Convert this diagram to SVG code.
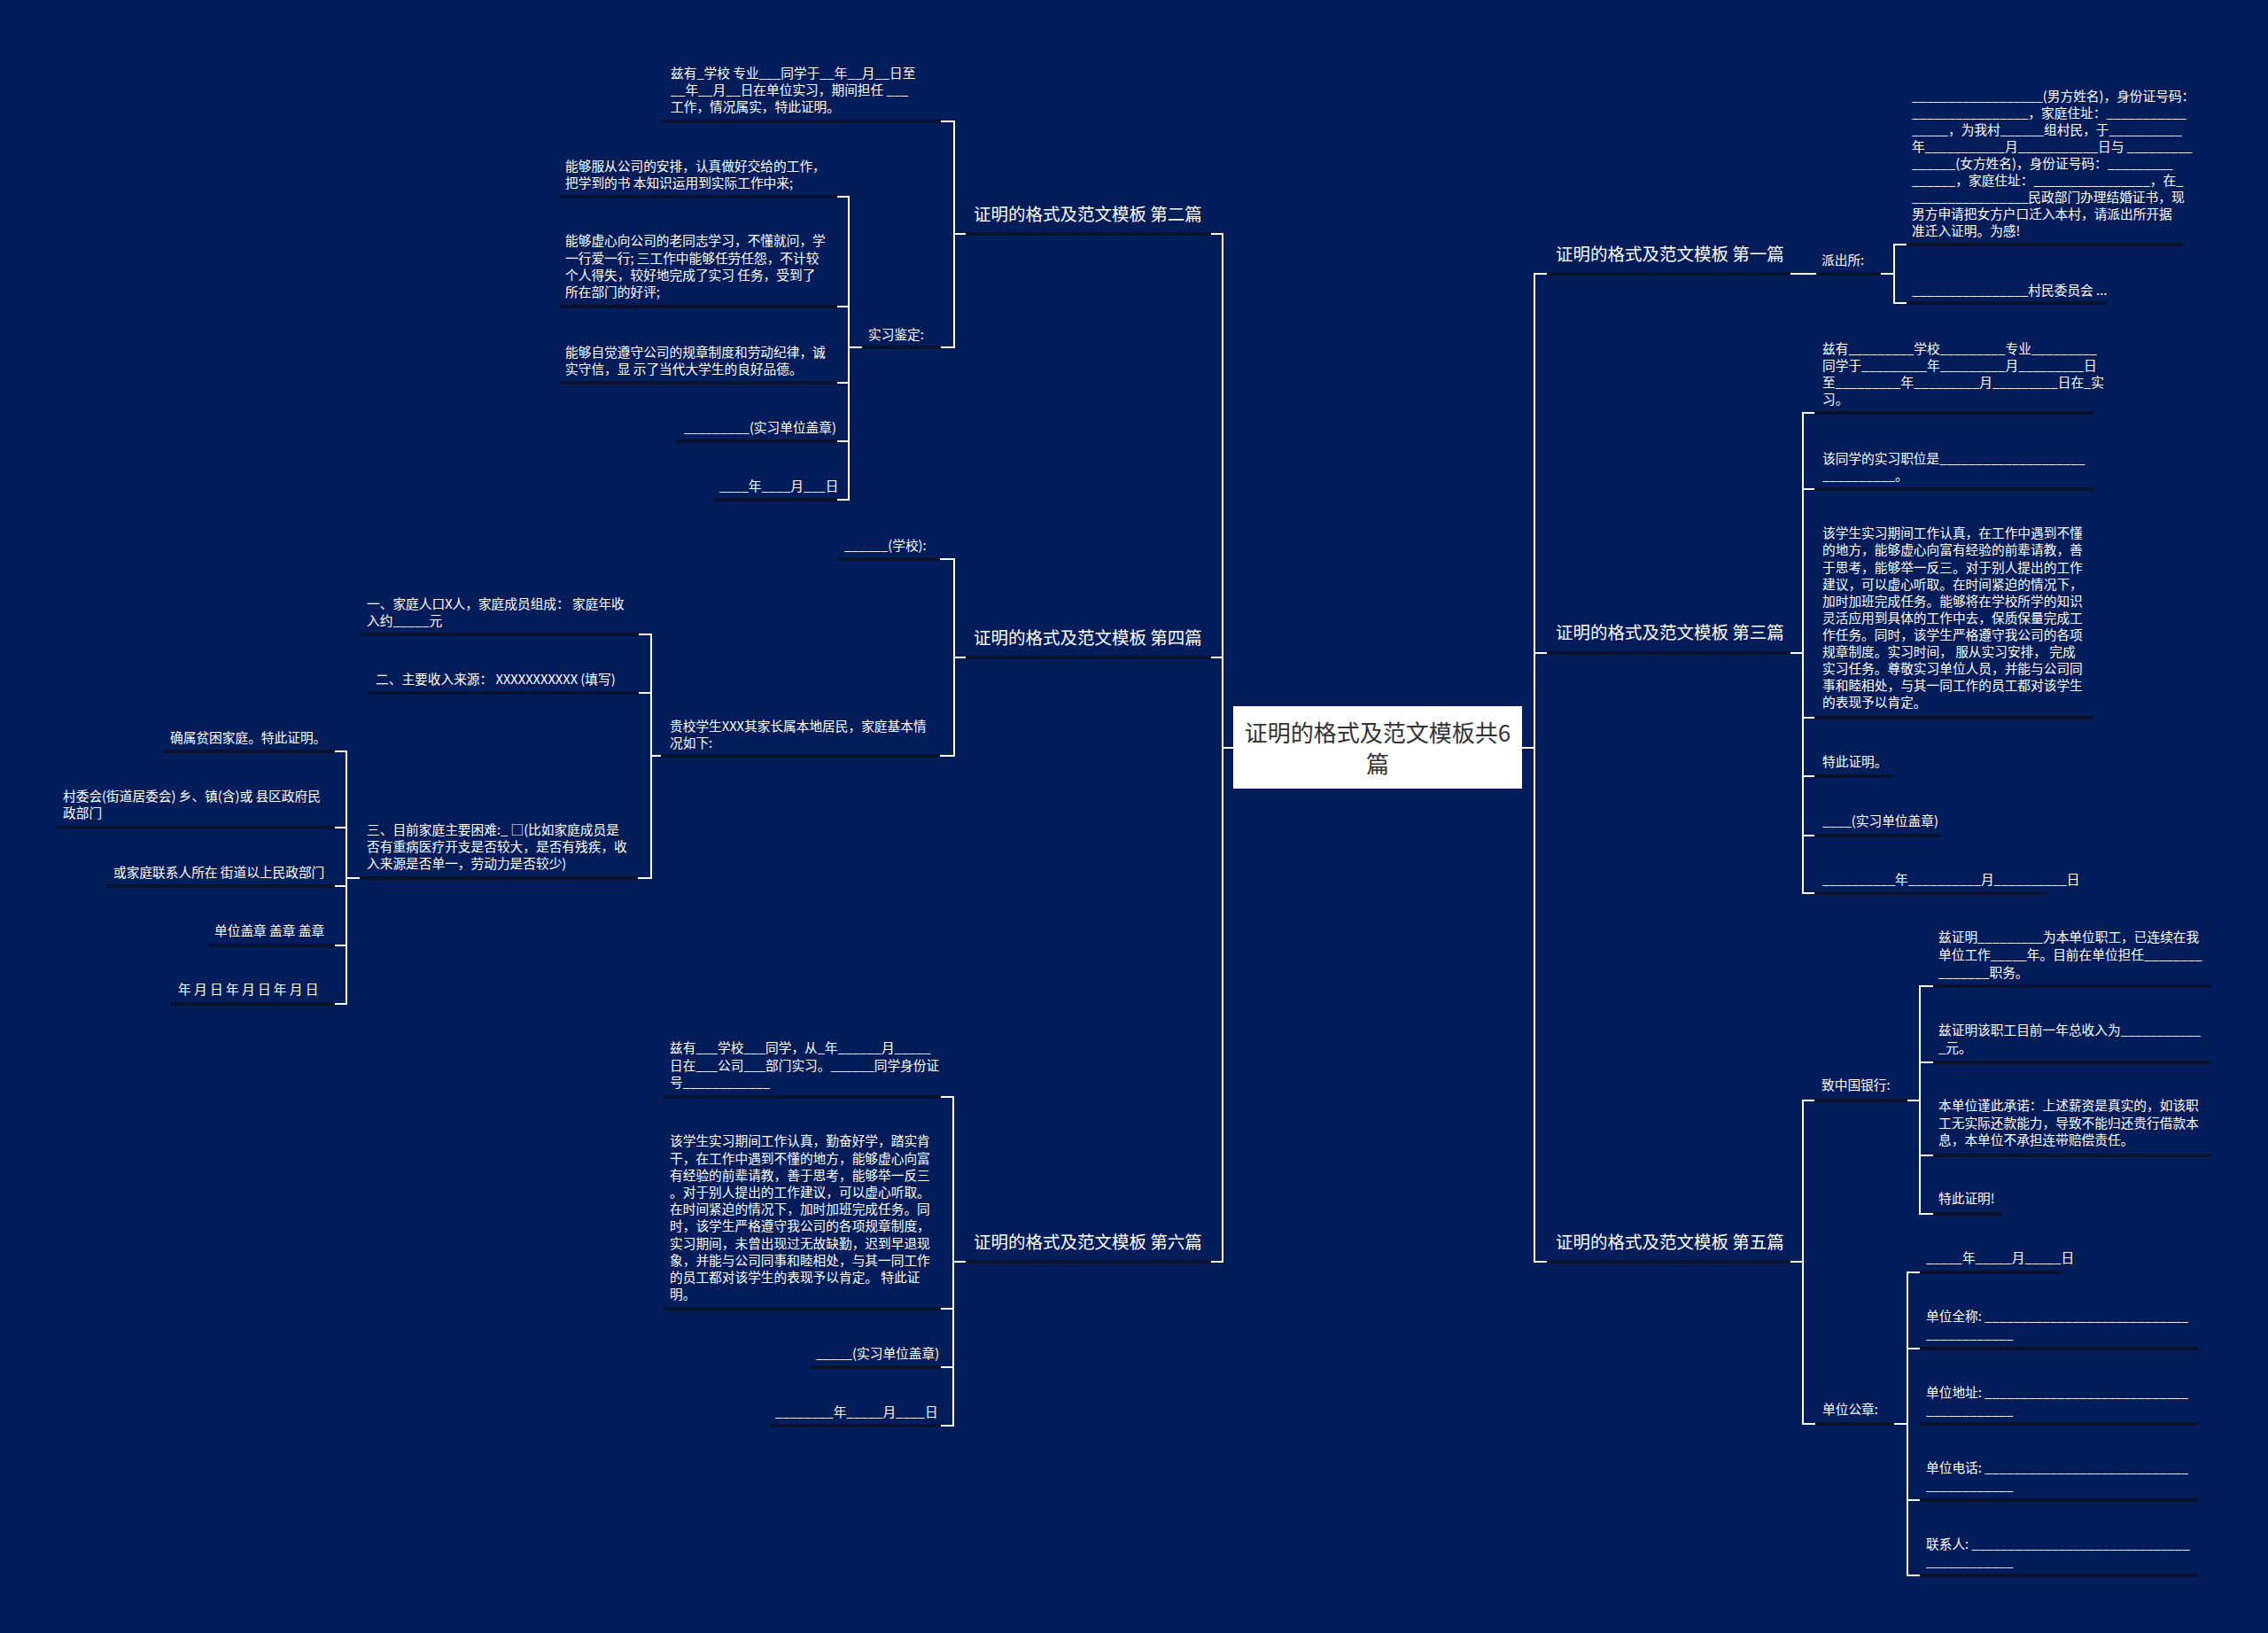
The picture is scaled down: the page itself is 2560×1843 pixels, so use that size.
<svg xmlns="http://www.w3.org/2000/svg" width="2560" height="1843" viewBox="0 0 2560 1843">
<style>
text{font-family:"Noto Sans CJK SC","Noto Sans",sans-serif;fill:#ffffff;}
.t{font-size:14.7px}
.m{font-size:19.5px}
.u{stroke:#0a1230;stroke-width:4}
.c{stroke:#ffffff;stroke-width:2;fill:none}
</style>
<rect x="0" y="0" width="2560" height="1843" fill="#021d5a"/>

<g id="connectors">
<path class="c" d="M1392 844 H1380 V264 H1367"/>
<path class="c" d="M1380 844 V742 H1367"/>
<path class="c" d="M1380 844 V1424 H1367"/>
<path class="c" d="M1718 844 H1732 V309 H1746"/>
<path class="c" d="M1732 844 V737 H1746"/>
<path class="c" d="M1732 844 V1424 H1746"/>
<path class="c" d="M1090 264 H1077 V137 H1062"/>
<path class="c" d="M1077 264 V392 H1062"/>
<path class="c" d="M973 392 H958 V222 H945"/>
<path class="c" d="M958 392 V346 H945"/>
<path class="c" d="M958 392 V432 H945"/>
<path class="c" d="M958 392 V498 H945"/>
<path class="c" d="M958 392 V564 H945"/>
<path class="c" d="M1090 742 H1077 V631 H1061"/>
<path class="c" d="M1077 742 V853 H1061"/>
<path class="c" d="M746 853 H735 V716 H721"/>
<path class="c" d="M735 853 V782 H721"/>
<path class="c" d="M735 853 V991 H720"/>
<path class="c" d="M406 991 H391 V848 H378"/>
<path class="c" d="M391 991 V934 H378"/>
<path class="c" d="M391 991 V1000 H378"/>
<path class="c" d="M391 991 V1067 H378"/>
<path class="c" d="M391 991 V1133 H378"/>
<path class="c" d="M1090 1424 H1076 V1238 H1062"/>
<path class="c" d="M1076 1424 V1477 H1062"/>
<path class="c" d="M1076 1424 V1543 H1062"/>
<path class="c" d="M1076 1424 V1609 H1062"/>
<path class="c" d="M2021 309 H2050"/>
<path class="c" d="M2123 309 H2138 V276 H2152"/>
<path class="c" d="M2138 309 V342 H2152"/>
<path class="c" d="M2021 737 H2035 V466 H2048"/>
<path class="c" d="M2035 737 V552 H2048"/>
<path class="c" d="M2035 737 V810 H2048"/>
<path class="c" d="M2035 737 V876 H2048"/>
<path class="c" d="M2035 737 V943 H2048"/>
<path class="c" d="M2035 737 V1008 H2048"/>
<path class="c" d="M2021 1424 H2035 V1242 H2048"/>
<path class="c" d="M2035 1424 V1607 H2049"/>
<path class="c" d="M2153 1242 H2167 V1113 H2182"/>
<path class="c" d="M2167 1242 V1199 H2182"/>
<path class="c" d="M2167 1242 V1304 H2182"/>
<path class="c" d="M2167 1242 V1370 H2182"/>
<path class="c" d="M2138 1607 H2153 V1436 H2167"/>
<path class="c" d="M2153 1607 V1522 H2167"/>
<path class="c" d="M2153 1607 V1693 H2167"/>
<path class="c" d="M2153 1607 V1778 H2167"/>
</g>

<g id="center">
<rect x="1392" y="797" width="326" height="93" fill="#ffffff"/>
<text x="1555" y="836.5" text-anchor="middle" style="font-size:26px;fill:#333333">证明的格式及范文模板共6</text>
<text x="1555" y="871.5" text-anchor="middle" style="font-size:26px;fill:#333333">篇</text>
</g>

<g id="n2">
<line class="u" x1="1090" y1="264" x2="1367" y2="264"/>
<text class="m" x="1099" y="249">证明的格式及范文模板 第二篇</text>
</g>
<g id="n4">
<line class="u" x1="1090" y1="742" x2="1367" y2="742"/>
<text class="m" x="1099" y="727">证明的格式及范文模板 第四篇</text>
</g>
<g id="n6">
<line class="u" x1="1090" y1="1424" x2="1367" y2="1424"/>
<text class="m" x="1099" y="1409">证明的格式及范文模板 第六篇</text>
</g>
<g id="n1">
<line class="u" x1="1746" y1="309" x2="2021" y2="309"/>
<text class="m" x="1756" y="294">证明的格式及范文模板 第一篇</text>
</g>
<g id="n3">
<line class="u" x1="1746" y1="737" x2="2021" y2="737"/>
<text class="m" x="1756" y="721">证明的格式及范文模板 第三篇</text>
</g>
<g id="n5">
<line class="u" x1="1746" y1="1424" x2="2021" y2="1424"/>
<text class="m" x="1756" y="1409">证明的格式及范文模板 第五篇</text>
</g>

<g id="n2a">
<line class="u" x1="748" y1="137" x2="1062" y2="137"/>
<text class="t" x="757" y="87.5">兹有_学校 专业___同学于__年__月__日至<tspan x="757" dy="19.2">__年__月__日在单位实习，期间担任 ___</tspan><tspan x="757" dy="19.2">工作，情况属实，特此证明。</tspan></text>
</g>
<g id="n2b">
<line class="u" x1="973" y1="392" x2="1062" y2="392"/>
<text class="t" x="980" y="382.5">实习鉴定:</text>
</g>
<g id="n2b1">
<line class="u" x1="632" y1="222" x2="945" y2="222"/>
<text class="t" x="638" y="192.5">能够服从公司的安排，认真做好交给的工作，<tspan x="638" dy="19.2">把学到的书 本知识运用到实际工作中来;</tspan></text>
</g>
<g id="n2b2">
<line class="u" x1="632" y1="346" x2="945" y2="346"/>
<text class="t" x="638" y="277.3">能够虚心向公司的老同志学习，不懂就问，学<tspan x="638" dy="19.2">一行爱一行; 三工作中能够任劳任怨，不计较</tspan><tspan x="638" dy="19.2">个人得失，较好地完成了实习 任务，受到了</tspan><tspan x="638" dy="19.2">所在部门的好评;</tspan></text>
</g>
<g id="n2b3">
<line class="u" x1="632" y1="432" x2="945" y2="432"/>
<text class="t" x="638" y="402.5">能够自觉遵守公司的规章制度和劳动纪律，诚<tspan x="638" dy="19.2">实守信，显 示了当代大学生的良好品德。</tspan></text>
</g>
<g id="n2b4">
<line class="u" x1="763" y1="498" x2="945" y2="498"/>
<text class="t" x="772" y="487.5">_________(实习单位盖章)</text>
</g>
<g id="n2b5">
<line class="u" x1="805" y1="564" x2="945" y2="564"/>
<text class="t" x="812" y="553.5">____年____月___日</text>
</g>

<g id="n4a">
<line class="u" x1="946" y1="631" x2="1061" y2="631"/>
<text class="t" x="953" y="620.5">______(学校):</text>
</g>
<g id="n4b">
<line class="u" x1="746" y1="853" x2="1061" y2="853"/>
<text class="t" x="756" y="824.5">贵校学生XXX其家长属本地居民，家庭基本情<tspan x="756" dy="19.2">况如下:</tspan></text>
</g>
<g id="n4b1">
<line class="u" x1="406" y1="716" x2="721" y2="716"/>
<text class="t" x="414" y="686.5">一、家庭人口X人，家庭成员组成： 家庭年收<tspan x="414" dy="19.2">入约_____元</tspan></text>
</g>
<g id="n4b2">
<line class="u" x1="416" y1="782" x2="721" y2="782"/>
<text class="t" x="424" y="771.5">二、主要收入来源： XXXXXXXXXXX (填写)</text>
</g>
<g id="n4b3">
<line class="u" x1="406" y1="991" x2="720" y2="991"/>
<text class="t" x="414" y="941.5">三、目前家庭主要困难:_ □(比如家庭成员是<tspan x="414" dy="19.2">否有重病医疗开支是否较大，是否有残疾，收</tspan><tspan x="414" dy="19.2">入来源是否单一，劳动力是否较少)</tspan></text>
</g>
<g id="n4b3a">
<line class="u" x1="184" y1="848" x2="378" y2="848"/>
<text class="t" x="192" y="837.5">确属贫困家庭。特此证明。</text>
</g>
<g id="n4b3b">
<line class="u" x1="64" y1="934" x2="378" y2="934"/>
<text class="t" x="71" y="904">村委会(街道居委会) 乡、镇(含)或 县区政府民<tspan x="71" dy="19.2">政部门</tspan></text>
</g>
<g id="n4b3c">
<line class="u" x1="120" y1="1000" x2="378" y2="1000"/>
<text class="t" x="128" y="989.5">或家庭联系人所在 街道以上民政部门</text>
</g>
<g id="n4b3d">
<line class="u" x1="235" y1="1067" x2="378" y2="1067"/>
<text class="t" x="242" y="1055.5">单位盖章 盖章 盖章</text>
</g>
<g id="n4b3e">
<line class="u" x1="193" y1="1133" x2="378" y2="1133"/>
<text class="t" x="201" y="1121.5">年 月 日 年 月 日 年 月 日</text>
</g>

<g id="n6a">
<line class="u" x1="749" y1="1238" x2="1062" y2="1238"/>
<text class="t" x="756" y="1188.3">兹有___学校___同学，从_年______月_____<tspan x="756" dy="19.2">日在___公司___部门实习。______同学身份证</tspan><tspan x="756" dy="19.2">号____________</tspan></text>
</g>
<g id="n6b">
<line class="u" x1="749" y1="1477" x2="1062" y2="1477"/>
<text class="t" x="756" y="1293.3">该学生实习期间工作认真，勤奋好学，踏实肯<tspan x="756" dy="19.2">干，在工作中遇到不懂的地方，能够虚心向富</tspan><tspan x="756" dy="19.2">有经验的前辈请教，善于思考，能够举一反三</tspan><tspan x="756" dy="19.2">。对于别人提出的工作建议，可以虚心听取。</tspan><tspan x="756" dy="19.2">在时间紧迫的情况下，加时加班完成任务。同</tspan><tspan x="756" dy="19.2">时，该学生严格遵守我公司的各项规章制度，</tspan><tspan x="756" dy="19.2">实习期间，未曾出现过无故缺勤，迟到早退现</tspan><tspan x="756" dy="19.2">象，并能与公司同事和睦相处，与其一同工作</tspan><tspan x="756" dy="19.2">的员工都对该学生的表现予以肯定。 特此证</tspan><tspan x="756" dy="19.2">明。</tspan></text>
</g>
<g id="n6c">
<line class="u" x1="914" y1="1543" x2="1062" y2="1543"/>
<text class="t" x="921" y="1532.5">_____(实习单位盖章)</text>
</g>
<g id="n6d">
<line class="u" x1="869" y1="1609" x2="1062" y2="1609"/>
<text class="t" x="875" y="1598.5">________年_____月____日</text>
</g>

<g id="n1a">
<line class="u" x1="2050" y1="309" x2="2123" y2="309"/>
<text class="t" x="2056" y="298.5">派出所:</text>
</g>
<g id="n1a1">
<line class="u" x1="2152" y1="276" x2="2465" y2="276"/>
<text class="t" x="2158" y="113.5">__________________(男方姓名)，身份证号码：<tspan x="2158" dy="19">________________，家庭住址：___________</tspan><tspan x="2158" dy="19">_____，为我村______组村民，于__________</tspan><tspan x="2158" dy="19">年___________月___________日与 _________</tspan><tspan x="2158" dy="19">______(女方姓名)，身份证号码：_________</tspan><tspan x="2158" dy="19">______，家庭住址：________________，在_</tspan><tspan x="2158" dy="19">________________民政部门办理结婚证书，现</tspan><tspan x="2158" dy="19">男方申请把女方户口迁入本村，请派出所开据</tspan><tspan x="2158" dy="19">准迁入证明。为感!</tspan></text>
</g>
<g id="n1a2">
<line class="u" x1="2152" y1="342" x2="2377" y2="342"/>
<text class="t" x="2158" y="332.5">________________村民委员会 ...</text>
</g>

<g id="n3a">
<line class="u" x1="2048" y1="466" x2="2363" y2="466"/>
<text class="t" x="2057" y="398.5">兹有_________学校_________专业_________<tspan x="2057" dy="19.1">同学于_________年_________月_________日</tspan><tspan x="2057" dy="19.1">至_________年_________月_________日在_实</tspan><tspan x="2057" dy="19.1">习。</tspan></text>
</g>
<g id="n3b">
<line class="u" x1="2048" y1="552" x2="2363" y2="552"/>
<text class="t" x="2057" y="522.5">该同学的实习职位是____________________<tspan x="2057" dy="19.6">__________。</tspan></text>
</g>
<g id="n3c">
<line class="u" x1="2048" y1="810" x2="2363" y2="810"/>
<text class="t" x="2057" y="607.3">该学生实习期间工作认真，在工作中遇到不懂<tspan x="2057" dy="19.1">的地方，能够虚心向富有经验的前辈请教，善</tspan><tspan x="2057" dy="19.1">于思考，能够举一反三。对于别人提出的工作</tspan><tspan x="2057" dy="19.1">建议，可以虚心听取。在时间紧迫的情况下，</tspan><tspan x="2057" dy="19.1">加时加班完成任务。能够将在学校所学的知识</tspan><tspan x="2057" dy="19.1">灵活应用到具体的工作中去，保质保量完成工</tspan><tspan x="2057" dy="19.1">作任务。同时，该学生严格遵守我公司的各项</tspan><tspan x="2057" dy="19.1">规章制度。实习时间， 服从实习安排， 完成</tspan><tspan x="2057" dy="19.1">实习任务。尊敬实习单位人员，并能与公司同</tspan><tspan x="2057" dy="19.1">事和睦相处，与其一同工作的员工都对该学生</tspan><tspan x="2057" dy="19.1">的表现予以肯定。</tspan></text>
</g>
<g id="n3d">
<line class="u" x1="2048" y1="876" x2="2138" y2="876"/>
<text class="t" x="2057" y="865.3">特此证明。</text>
</g>
<g id="n3e">
<line class="u" x1="2048" y1="943" x2="2190" y2="943"/>
<text class="t" x="2057" y="932.3">____(实习单位盖章)</text>
</g>
<g id="n3f">
<line class="u" x1="2048" y1="1008" x2="2310" y2="1008"/>
<text class="t" x="2057" y="998.3">__________年__________月__________日</text>
</g>

<g id="n5a">
<line class="u" x1="2048" y1="1242" x2="2153" y2="1242"/>
<text class="t" x="2056" y="1230.3">致中国银行:</text>
</g>
<g id="n5a1">
<line class="u" x1="2182" y1="1113" x2="2496" y2="1113"/>
<text class="t" x="2188" y="1063.3">兹证明_________为本单位职工，已连续在我<tspan x="2188" dy="19.6">单位工作_____年。目前在单位担任________</tspan><tspan x="2188" dy="19.6">_______职务。</tspan></text>
</g>
<g id="n5a2">
<line class="u" x1="2182" y1="1199" x2="2496" y2="1199"/>
<text class="t" x="2188" y="1168.3">兹证明该职工目前一年总收入为___________<tspan x="2188" dy="19.6">_元。</tspan></text>
</g>
<g id="n5a3">
<line class="u" x1="2182" y1="1304" x2="2496" y2="1304"/>
<text class="t" x="2188" y="1253.3">本单位谨此承诺：上述薪资是真实的，如该职<tspan x="2188" dy="19.5">工无实际还款能力，导致不能归还贵行借款本</tspan><tspan x="2188" dy="19.5">息，本单位不承担连带赔偿责任。</tspan></text>
</g>
<g id="n5a4">
<line class="u" x1="2182" y1="1370" x2="2260" y2="1370"/>
<text class="t" x="2188" y="1358.3">特此证明!</text>
</g>
<g id="n5b">
<line class="u" x1="2049" y1="1607" x2="2138" y2="1607"/>
<text class="t" x="2057" y="1596.3">单位公章:</text>
</g>
<g id="n5b1">
<line class="u" x1="2167" y1="1436" x2="2327" y2="1436"/>
<text class="t" x="2174" y="1425.3">_____年_____月_____日</text>
</g>
<g id="n5b2">
<line class="u" x1="2167" y1="1522" x2="2481" y2="1522"/>
<text class="t" x="2174" y="1491.3">单位全称: ____________________________<tspan x="2174" dy="20">____________</tspan></text>
</g>
<g id="n5b3">
<line class="u" x1="2167" y1="1607" x2="2481" y2="1607"/>
<text class="t" x="2174" y="1577.3">单位地址: ____________________________<tspan x="2174" dy="20">____________</tspan></text>
</g>
<g id="n5b4">
<line class="u" x1="2167" y1="1693" x2="2481" y2="1693"/>
<text class="t" x="2174" y="1662.3">单位电话: ____________________________<tspan x="2174" dy="20">____________</tspan></text>
</g>
<g id="n5b5">
<line class="u" x1="2167" y1="1778" x2="2481" y2="1778"/>
<text class="t" x="2174" y="1748.3">联系人: ______________________________<tspan x="2174" dy="20">____________</tspan></text>
</g>
</svg>
